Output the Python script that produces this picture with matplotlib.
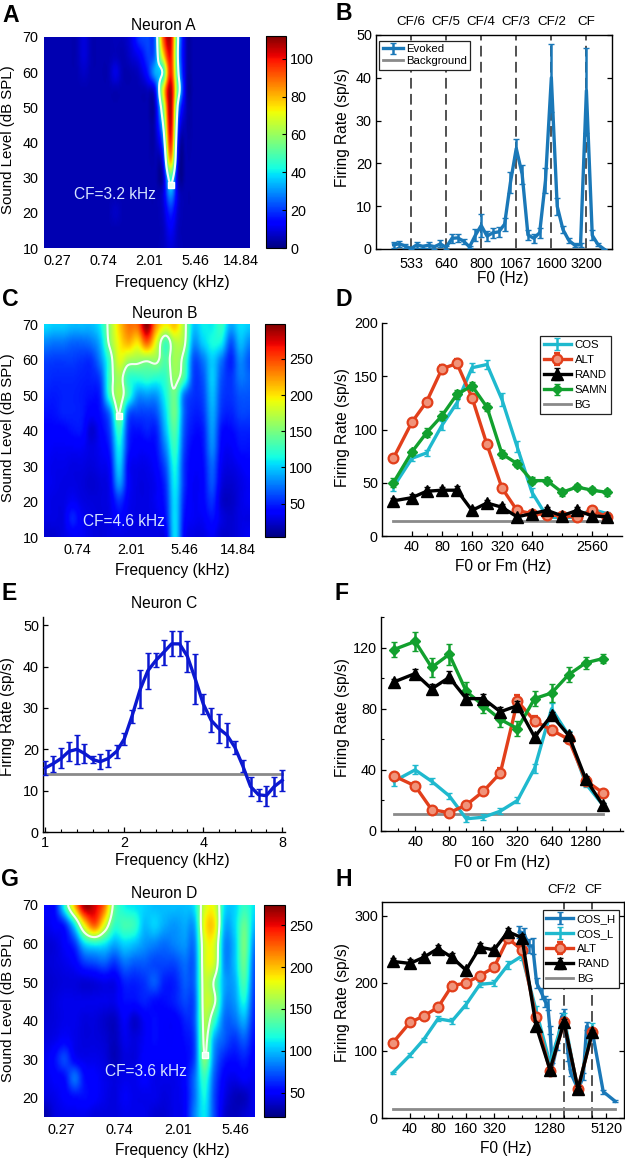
import numpy as np
import matplotlib
matplotlib.use("Agg")
import matplotlib.pyplot as plt
from matplotlib.ticker import NullFormatter

plt.rcParams['font.family'] = ['Liberation Sans', 'DejaVu Sans']
plt.rcParams['axes.linewidth'] = 1.0

W, H = 625, 1161

# tuning maps: quarter octave frequency grid, 5 dB level grid
freq_grid = [0.2, 0.238, 0.283, 0.336, 0.4, 0.476, 0.566, 0.673, 0.8, 0.951, 1.13, 1.35, 1.6, 1.9,
             2.26, 2.69, 3.2, 3.81, 4.53, 5.38, 6.4, 7.61, 9.05, 10.8, 12.8, 15.2, 18.1]

levels_a = [10, 15, 20, 25, 30, 35, 40, 45, 50, 55, 60, 65, 70]
map_a = [
    [5, 5, 5, 5, 5, 5, 5, 5, 5, 5, 5, 5, 5, 5, 5, 6, 9, 6, 5, 5, 5, 5, 5, 5, 5, 5, 5],
    [5, 5, 5, 5, 5, 5, 5, 5, 5, 5, 5, 5, 5, 5, 5, 6, 12, 6, 5, 5, 5, 5, 5, 5, 5, 5, 5],
    [5, 5, 5, 5, 5, 5, 5, 5, 5, 7, 5, 5, 5, 5, 5, 7, 18, 7, 5, 5, 5, 5, 5, 5, 5, 5, 5],
    [5, 5, 5, 5, 5, 5, 5, 5, 5, 5, 5, 5, 5, 5, 5, 8, 30, 8, 5, 5, 5, 5, 5, 5, 5, 5, 5],
    [5, 5, 5, 5, 5, 5, 5, 5, 5, 5, 5, 5, 5, 5, 5, 5, 48, 5, 5, 5, 5, 5, 5, 5, 5, 5, 5],
    [5, 5, 5, 5, 5, 5, 5, 5, 5, 5, 5, 5, 5, 5, 5, 12, 82, 8, 5, 5, 5, 5, 5, 5, 5, 5, 5],
    [5, 5, 5, 5, 5, 5, 5, 5, 5, 5, 5, 5, 5, 5, 5, 24, 98, 12, 5, 5, 5, 5, 5, 5, 5, 5, 5],
    [5, 5, 5, 5, 5, 5, 5, 5, 5, 5, 5, 5, 5, 5, 6, 38, 105, 20, 5, 5, 5, 5, 5, 5, 5, 5, 5],
    [5, 5, 5, 5, 5, 5, 5, 5, 5, 5, 5, 5, 5, 5, 6, 52, 108, 30, 6, 5, 5, 5, 5, 5, 5, 5, 5],
    [5, 5, 5, 5, 5, 5, 5, 5, 5, 5, 5, 5, 5, 6, 12, 68, 108, 46, 6, 5, 5, 5, 5, 5, 5, 5, 5],
    [5, 5, 5, 5, 5, 7, 5, 5, 5, 10, 5, 5, 7, 15, 32, 42, 98, 38, 6, 5, 5, 5, 5, 5, 5, 5, 5],
    [5, 5, 5, 5, 5, 9, 5, 5, 5, 6, 5, 8, 12, 20, 26, 72, 100, 34, 6, 5, 5, 5, 5, 5, 5, 5, 5],
    [5, 5, 5, 5, 5, 9, 5, 5, 5, 6, 6, 10, 20, 22, 25, 88, 104, 36, 6, 5, 5, 5, 5, 5, 5, 5, 5],
]

levels_c = [10, 15, 20, 25, 30, 35, 40, 45, 50, 55, 60, 65, 70]
map_c = [
    [25, 25, 30, 35, 35, 30, 28, 30, 30, 30, 30, 30, 30, 35, 105, 40, 30, 30, 35, 25, 25, 30, 35],
    [30, 30, 30, 50, 35, 30, 28, 30, 40, 32, 30, 30, 32, 45, 105, 45, 35, 35, 45, 30, 25, 30, 30],
    [32, 30, 30, 35, 30, 28, 28, 32, 55, 35, 30, 30, 35, 50, 105, 50, 35, 40, 55, 25, 22, 30, 35],
    [35, 32, 30, 30, 28, 25, 28, 35, 85, 40, 30, 30, 35, 55, 110, 55, 35, 40, 65, 30, 25, 30, 35],
    [35, 32, 32, 30, 30, 28, 32, 40, 100, 40, 32, 32, 40, 65, 115, 55, 38, 42, 70, 35, 30, 35, 40],
    [38, 35, 35, 35, 35, 30, 35, 50, 110, 50, 38, 38, 45, 80, 125, 60, 40, 45, 80, 40, 35, 45, 45],
    [40, 40, 40, 45, 45, 25, 38, 60, 125, 55, 45, 50, 50, 95, 135, 65, 45, 48, 85, 45, 42, 50, 50],
    [45, 45, 50, 50, 48, 38, 45, 75, 152, 70, 60, 60, 65, 105, 145, 70, 50, 55, 90, 55, 50, 60, 60],
    [50, 48, 50, 50, 48, 45, 52, 125, 168, 125, 85, 85, 85, 115, 145, 75, 55, 60, 95, 60, 55, 65, 65],
    [55, 52, 52, 52, 50, 50, 62, 130, 165, 125, 120, 125, 120, 125, 160, 130, 60, 65, 100, 65, 55, 75, 70],
    [60, 58, 58, 58, 55, 55, 80, 130, 185, 165, 160, 155, 158, 135, 165, 140, 65, 75, 100, 75, 50, 80, 65],
    [80, 75, 75, 70, 70, 75, 95, 155, 195, 215, 200, 240, 185, 130, 170, 160, 85, 100, 115, 110, 65, 95, 80],
    [105, 100, 100, 95, 95, 95, 110, 160, 205, 235, 240, 295, 225, 195, 210, 165, 100, 110, 110, 125, 90, 105, 100],
]

levels_g = [15, 20, 25, 30, 35, 40, 45, 50, 55, 60, 65, 70]
map_g = [
    [30, 42, 45, 45, 45, 42, 42, 42, 45, 45, 45, 40, 40, 45, 50, 85, 110, 70, 40, 35, 40, 45],
    [42, 45, 50, 55, 55, 50, 45, 42, 48, 45, 45, 45, 42, 45, 50, 80, 115, 70, 45, 35, 35, 45],
    [45, 50, 55, 80, 55, 50, 45, 42, 45, 45, 50, 45, 45, 45, 52, 80, 125, 75, 50, 45, 50, 45],
    [45, 55, 70, 50, 45, 45, 42, 34, 42, 42, 50, 50, 50, 50, 52, 70, 148, 85, 60, 55, 60, 50],
    [42, 45, 50, 45, 42, 42, 40, 35, 45, 42, 48, 55, 50, 50, 55, 70, 155, 95, 75, 65, 75, 55],
    [40, 42, 45, 45, 42, 42, 38, 36, 48, 38, 48, 55, 50, 50, 60, 75, 160, 125, 80, 80, 95, 60],
    [38, 42, 45, 45, 45, 45, 45, 45, 55, 55, 60, 55, 55, 60, 70, 75, 165, 152, 90, 90, 115, 65],
    [38, 40, 42, 42, 40, 42, 45, 45, 60, 60, 65, 75, 60, 60, 75, 80, 165, 145, 95, 95, 130, 70],
    [40, 42, 45, 50, 65, 70, 75, 65, 80, 75, 75, 70, 70, 70, 80, 80, 170, 170, 90, 100, 140, 75],
    [40, 42, 50, 65, 105, 115, 110, 95, 105, 100, 90, 85, 80, 85, 90, 85, 172, 175, 90, 100, 145, 85],
    [45, 50, 60, 110, 185, 225, 175, 125, 130, 125, 100, 105, 95, 90, 95, 95, 182, 190, 100, 105, 140, 100],
    [50, 55, 120, 200, 265, 255, 220, 140, 115, 110, 105, 100, 100, 100, 100, 110, 172, 178, 110, 105, 125, 110],
]

# panel B
harm_b = [6.5, 6.333, 6.167, 6, 5.833, 5.667, 5.5, 5.333, 5.167, 5, 4.833, 4.667, 4.5, 4.333, 4.167, 4, 3.833,
          3.667, 3.5, 3.333, 3.167, 3, 2.833, 2.667, 2.5, 2.333, 2.167, 2, 1.833, 1.667, 1.5, 1.333, 1.167, 1,
          0.833, 0.667, 0.5]
rate_b = [1, 1.2, 0.7, 0.1, 1, 0.6, 0.9, 0.5, 1.2, 0.4, 2.5, 2.6, 1.8, 0.5, 3.2, 5.5, 3, 3.8, 4, 5.8, 15.5, 23.5,
          17.5, 3.3, 2.5, 3.8, 16, 40, 10, 4.5, 2, 0.9, 1, 37, 3.2, 1, 0]
err_b = [0.7, 0.7, 0.4, 0.2, 0.7, 0.4, 0.7, 0.4, 0.8, 0.4, 1, 1, 0.6, 0.3, 1.4, 2.6, 1.1, 1.2, 1.1, 1.5, 2.4, 2.1,
         2.2, 1.2, 1.1, 1.2, 3, 8, 2, 0.8, 0.6, 0.4, 0.5, 10, 1.2, 0.4, 0.1]
harm_lines = [6, 5, 4, 3, 2, 1]
harm_ticklabels = ['533', '640', '800', '1067', '1600', '3200']
harm_names = ['CF/6', 'CF/5', 'CF/4', 'CF/3', 'CF/2', 'CF']

# panel D
f0_d = [26, 40, 56, 80, 113, 160, 226, 320, 453, 640, 905, 1280, 1810, 2560, 3620]
cos_d = [46, 73, 78, 104, 125, 158, 161, 128, 84, 41, 18, 17, 18, 25, 21]
alt_d = [73, 107, 126, 157, 162, 130, 86, 45, 24, 21, 20, 19, 18, 24, 18]
rand_d = [33, 36, 42, 43, 43, 24, 31, 27, 18, 21, 24, 19, 24, 19, 18]
samn_d = [50, 79, 97, 113, 133, 141, 121, 77, 68, 52, 52, 41, 46, 43, 41]
cos_d_err = [4, 3, 3, 4, 5, 4, 4, 6, 5, 4, 2, 2, 2, 3, 2]
alt_d_err = [3, 3, 3, 4, 4, 3, 3, 3, 2, 2, 2, 2, 2, 2, 2]
rand_d_err = [3, 3, 4, 3, 4, 3, 3, 3, 2, 2, 3, 2, 3, 2, 2]
samn_d_err = [4, 3, 4, 4, 4, 4, 4, 4, 3, 3, 3, 3, 3, 3, 3]

# panel E
freq_e = [1, 1.07, 1.15, 1.23, 1.32, 1.41, 1.52, 1.62, 1.74, 1.87, 2, 2.14, 2.3, 2.46, 2.64, 2.83, 3.03, 3.25,
          3.48, 3.73, 4, 4.29, 4.59, 4.92, 5.28, 5.66, 6.06, 6.5, 6.96, 7.46, 8]
rate_e = [15.5, 16.5, 17.8, 19.5, 20, 19, 17.5, 17, 17.8, 19.5, 22.5, 28, 34.5, 39, 41.5, 43.5, 45.5, 45.5, 42.5,
          37, 31, 27, 25, 23.5, 20.5, 16, 11, 9, 8.8, 11, 12.5]
err_e = [1.7, 2, 2.4, 2.3, 3.5, 2.3, 0.8, 1.8, 2, 1.6, 1.5, 1.6, 4.6, 4.4, 1.7, 3, 3, 3, 3.7, 6, 2.4, 2.9, 3.5,
         2.9, 1.6, 1.4, 2.3, 1.5, 2.4, 2.2, 2.6]

# panel F
f0_f = [26, 40, 56, 80, 113, 160, 226, 320, 453, 640, 905, 1280, 1810]
cos_f = [32.5, 40, 32.5, 23, 8, 9, 13, 20, 41, 80, 62.6, 31, 17]
alt_f = [36, 29.5, 14, 12, 17, 26, 38, 85, 72, 66, 60, 33, 25]
rand_f = [97.5, 103, 93, 100.5, 86.6, 86.6, 78, 82, 61.5, 75.7, 62.6, 34, 17]
samn_f = [118.7, 124, 107, 115.6, 91.4, 82, 73, 67, 86.6, 90.3, 102.3, 110, 112.8]
cos_f_err = [3, 3, 2, 2, 2, 2, 2, 2, 3, 4, 3, 2, 1]
alt_f_err = [2, 2, 2, 2, 2, 2, 3, 4, 3, 3, 2, 2, 2]
rand_f_err = [2, 3, 3, 4, 3, 3, 3, 3, 2, 2, 2, 2, 1]
samn_f_err = [5, 6, 6, 7, 6, 5, 5, 5, 5, 6, 5, 4, 3]

# panel H
f0_h = [26, 40, 56, 80, 113, 160, 226, 320, 453, 640, 905, 1280, 1810, 2560, 3650]
cosl_h = [66.6, 93, 116, 147, 143.5, 168, 198, 200, 227, 240, 160, 81, 150, 39, 135]
alt_h = [111, 141.6, 151, 164, 196, 200, 211, 223, 266, 249, 149, 70, 142, 43, 127]
rand_h = [232, 229, 238, 251, 238, 219, 253, 249, 276, 267, 137, 71.5, 141.6, 43, 127]
cosl_h_err = [2, 3, 3, 4, 4, 5, 4, 5, 6, 6, 6, 6, 6, 4, 6]
alt_h_err = [4, 4, 4, 4, 5, 4, 4, 4, 5, 6, 6, 4, 4, 4, 4]
rand_h_err = [5, 6, 5, 6, 7, 5, 6, 5, 5, 6, 5, 4, 5, 4, 4]
f0_cosh = [599, 672, 755, 833, 920, 1040, 1131, 1209, 1280, 1356, 1522, 1709, 1825, 2015, 2134, 2583, 2920, 3173,
           3650, 4785, 6400]
cosh_h = [276, 274, 255, 255, 200, 185, 173, 168, 131, 76, 106, 150, 155, 91, 67, 42, 62, 136, 128, 39, 25]
cosh_h_err = [9, 8, 10, 12, 8, 8, 8, 8, 6, 6, 5, 6, 6, 6, 5, 4, 5, 6, 6, 3, 2]

CYAN = '#1fb9ce'
RED = '#e23f1b'
GREEN = '#12a02e'
STEEL = '#1a78b8'
GRAY = '#8a8a8a'
TICK = 10.4
LABEL = 11.2

fig = plt.figure(figsize=(W / 100, H / 100), dpi=100)


def new_axes(left, top, right, bottom):
    return fig.add_axes([left / W, 1 - bottom / H, (right - left) / W, (bottom - top) / H])


def put(x, y, s, **kw):
    return fig.text(x / W, 1 - y / H, s, ha=kw.pop('ha', 'center'), va=kw.pop('va', 'center'), **kw)


# catmull-rom along one axis so the peaks keep their read value
def refine(a, n, axis):
    a = np.moveaxis(a, axis, 0)
    m = a.shape[0]
    t = np.linspace(0, m - 1, (m - 1) * n + 1)
    i = np.minimum(t.astype(int), m - 2)
    u = (t - i).reshape(-1, *([1] * (a.ndim - 1)))
    p0, p1, p2, p3 = a[np.maximum(i - 1, 0)], a[i], a[i + 1], a[np.minimum(i + 2, m - 1)]
    out = 0.5 * (2 * p1 + (p2 - p0) * u + (2 * p0 - 5 * p1 + 4 * p2 - p3) * u ** 2 + (3 * p1 - p0 - 3 * p2 + p3) * u ** 3)
    return np.moveaxis(out, 0, axis)


def heat_panel(box, cbox, freqs, levels, z, vmin, vmax, xt, xl, yt, cbt, contour, cf_point):
    ax = new_axes(*box)
    x = np.log(freqs)
    fine = refine(refine(np.array(z, float), 8, 0), 8, 1)
    xf = np.linspace(x[0], x[-1], fine.shape[1])
    yf = np.linspace(levels[0], levels[-1], fine.shape[0])
    im = ax.imshow(fine, origin='lower', aspect='auto', cmap='jet', vmin=vmin, vmax=vmax,
                   interpolation='bilinear', extent=[x[0], x[-1], levels[0], levels[-1]])
    ax.contour(xf, yf, fine, levels=[contour], colors='#f4fbf4', linewidths=1.5)
    ax.plot(np.log(cf_point[0]), cf_point[1], 's', color='white', ms=4.2, mec='white', mfc='#e8fff0')
    ax.set_xlim(x[0], x[-1])
    ax.set_ylim(levels[0], levels[-1])
    ax.set_xticks(np.log(xt), xl, fontsize=TICK)
    ax.set_yticks(yt)
    ax.tick_params(axis='both', length=0, labelsize=TICK, pad=4)
    for s in ax.spines.values():
        s.set_visible(False)
    cax = new_axes(*cbox)
    cb = fig.colorbar(im, cax=cax)
    cb.set_ticks(cbt)
    cb.ax.tick_params(direction='in', length=3, width=0.8, labelsize=TICK, pad=3)
    cb.outline.set_linewidth(0.8)
    return ax


def line_panel(box, xlim, ylim, yt, xt=None, xl=None, minor=None, ymin=None, box_on=False):
    ax = new_axes(*box)
    if xt is not None:
        ax.set_xscale('log', base=2)
    ax.set_xlim(*xlim)
    ax.set_ylim(*ylim)
    ax.set_yticks(yt)
    if xt is not None:
        ax.set_xticks(xt, xl)
        ax.set_xticks(minor, minor=True)
        ax.xaxis.set_minor_formatter(NullFormatter())
    if ymin is not None:
        ax.set_yticks(ymin, minor=True)
    ax.tick_params(which='major', direction='in', length=3.5, width=0.9, labelsize=TICK, pad=3, right=box_on)
    ax.tick_params(which='minor', direction='in', length=2, width=0.8, right=box_on)
    ax.spines['top'].set_visible(box_on)
    ax.spines['right'].set_visible(box_on)
    return ax


def ebar(ax, x, y, e, color, label=None, marker=None, ms=0, hollow=False, z=3, lw=2.4):
    ax.errorbar(x, y, yerr=e, color=color, lw=lw, elinewidth=1.8, capsize=2.2, capthick=1.7, marker=marker, ms=ms,
                mfc='#f0937a' if hollow else color, mec=color, mew=1.6 if hollow else 1, label=label, zorder=z)


def legend(ax, order, x, y, spacing=0.45, hlen=2.4):
    hs, ls = ax.get_legend_handles_labels()
    hs = [hs[ls.index(o)] for o in order]
    leg = ax.legend(hs, order, loc='upper left', bbox_to_anchor=(x, y), borderaxespad=0, fontsize=8.2, frameon=True,
                    fancybox=False, framealpha=1, edgecolor='#222222', handlelength=hlen, handletextpad=0.3,
                    labelspacing=spacing, borderpad=0.3)
    leg.get_frame().set_linewidth(0.9)
    leg.set_zorder(10)


def series_style(ax, x, cos, alt, rnd, samn, ecos, ealt, ernd, esamn, bg, bgx):
    ebar(ax, x, cos, ecos, CYAN, 'COS', z=3)
    ebar(ax, x, alt, ealt, RED, 'ALT', marker='o', ms=7, hollow=True, z=4)
    ebar(ax, x, rnd, ernd, 'black', 'RAND', marker='^', ms=8.5, z=6)
    ebar(ax, x, samn, esamn, GREEN, 'SAMN', marker='D', ms=5, z=5)
    ax.plot(bgx, [bg, bg], color=GRAY, lw=2, label='BG', zorder=2)


# A
heat_panel((44, 37, 250, 248), (266, 36, 286, 248), freq_grid, levels_a, map_a, 0, 112,
           [0.27, 0.74, 2.01, 5.46, 14.84], ['0.27', '0.74', '2.01', '5.46', '14.84'],
           [10, 20, 30, 40, 50, 60, 70], [0, 20, 40, 60, 80, 100], 40, (3.2, 28))
put(115, 194, 'CF=3.2 kHz', color='#d5e4ff', fontsize=LABEL)

# B
ax = line_panel((376, 35, 612, 249), (7, 0.27), (0, 50), [0, 10, 20, 30, 40, 50], box_on=True)
for h in harm_lines:
    ax.plot([h, h], [0, 50], color='#222222', lw=1.1, dashes=(7, 3.5), zorder=1)
ax.plot([harm_b[0], harm_b[-1]], [0, 0], color=GRAY, lw=2, label='Background', zorder=2)
ebar(ax, harm_b, rate_b, err_b, STEEL, 'Evoked', z=3)
ax.set_xticks(harm_lines, harm_ticklabels)
ax.tick_params(axis='x', length=0, pad=6)
for h, nm in zip(harm_lines, harm_names):
    ax.text(h, 51.6, nm, ha='center', va='bottom', fontsize=9.6)
legend(ax, ['Evoked', 'Background'], 0.014, 0.973, spacing=0.2, hlen=1.75)

# C
heat_panel((44, 324, 249, 537), (265, 324, 285, 537), freq_grid[4:], levels_c, map_c, 4, 298,
           [0.74, 2.01, 5.46, 14.84], ['0.74', '2.01', '5.46', '14.84'],
           [10, 20, 30, 40, 50, 60, 70], [50, 100, 150, 200, 250], 150, (1.6, 44))
put(124, 522, 'CF=4.6 kHz', color='#d5e4ff', fontsize=LABEL)

# D
ax = line_panel((382, 323, 622, 536), (20, 5120), (0, 200), [0, 50, 100, 150, 200],
                [40, 80, 160, 320, 640, 2560], ['40', '80', '160', '320', '640', '2560'],
                [56, 113, 226, 453, 905, 1280, 1810, 3620])
series_style(ax, f0_d, cos_d, alt_d, rand_d, samn_d, cos_d_err, alt_d_err, rand_d_err, samn_d_err, 14,
             [f0_d[0], f0_d[-1]])
legend(ax, ['COS', 'ALT', 'RAND', 'SAMN', 'BG'], 0.66, 0.937)

# E
ax = line_panel((43, 617, 285, 832), (0.98, 8.2), (0, 52), [0, 10, 20, 30, 40, 50],
                [1, 2, 4, 8], ['1', '2', '4', '8'],
                [1.15, 1.32, 1.52, 1.74, 2.3, 2.64, 3.03, 3.48, 4.59, 5.28, 6.06, 6.96])
ax.plot([1, 8], [14, 14], color=GRAY, lw=2, zorder=2)
ebar(ax, freq_e, rate_e, err_e, '#0b18d0', z=3)

# F
ax = line_panel((381, 617, 623, 831), (20, 2730), (0, 140), [0, 40, 80, 120],
                [40, 80, 160, 320, 640, 1280], ['40', '80', '160', '320', '640', '1280'],
                [28, 56, 113, 226, 453, 905, 1810, 2560], ymin=[20, 60, 100, 140])
series_style(ax, f0_f, cos_f, alt_f, rand_f, samn_f, cos_f_err, alt_f_err, rand_f_err, samn_f_err, 11,
             [f0_f[0], f0_f[-1]])

# G
heat_panel((44, 905, 255, 1117), (264, 905, 285, 1117), freq_grid[:22], levels_g, map_g, 21, 274,
           [0.27, 0.74, 2.01, 5.46], ['0.27', '0.74', '2.01', '5.46'],
           [20, 30, 40, 50, 60, 70], [50, 100, 150, 200, 250], 150, (3.2, 31))
put(146, 1072, 'CF=3.6 kHz', color='#d5e4ff', fontsize=LABEL)

# H
ax = line_panel((382, 902, 624, 1118), (20, 8000), (0, 320), [0, 100, 200, 300],
                [40, 80, 160, 320, 1280, 5120], ['40', '80', '160', '320', '1280', '5120'],
                [56, 113, 226, 453, 640, 905, 1810, 2560, 3620], box_on=True)
ax.plot([1825, 1825], [0, 320], color='#222222', lw=1.1, dashes=(7, 3.5), zorder=1)
ax.plot([3650, 3650], [0, 320], color='#222222', lw=1.1, dashes=(7, 3.5), zorder=1)
ebar(ax, f0_cosh, cosh_h, cosh_h_err, STEEL, 'COS_H', z=3)
ebar(ax, f0_h, cosl_h, cosl_h_err, CYAN, 'COS_L', z=4)
ebar(ax, f0_h, alt_h, alt_h_err, RED, 'ALT', marker='o', ms=7, hollow=True, z=5)
ebar(ax, f0_h, rand_h, rand_h_err, 'black', 'RAND', marker='^', ms=8.5, z=6)
ax.plot([f0_h[0], f0_cosh[-1]], [14, 14], color=GRAY, lw=2, label='BG', zorder=2)
legend(ax, ['COS_H', 'COS_L', 'ALT', 'RAND', 'BG'], 0.664, 0.961)
put(562, 890, 'CF/2', fontsize=9.6)
put(593, 890, 'CF', fontsize=9.6)

# shared texts
for x, y, s in [(163, 25, 'Neuron A'), (165, 313, 'Neuron B'), (164, 604, 'Neuron C'), (164, 894, 'Neuron D')]:
    put(x, y, s, fontsize=LABEL)
for x, y, s in [(172, 282, 'Frequency (kHz)'), (503, 278, 'F0 (Hz)'), (172, 570, 'Frequency (kHz)'),
                (503, 567, 'F0 or Fm (Hz)'), (172, 861, 'Frequency (kHz)'), (502, 862, 'F0 or Fm (Hz)'),
                (172, 1151, 'Frequency (kHz)'), (506, 1149, 'F0 (Hz)')]:
    put(x, y, s, fontsize=LABEL)
for x, y, s in [(8, 140, 'Sound Level (dB SPL)'), (8, 428, 'Sound Level (dB SPL)'), (8, 1008, 'Sound Level (dB SPL)')]:
    put(x, y, s, fontsize=10.8, rotation=90)
for x, y, s in [(343, 128, 'Firing Rate (sp/s)'), (342, 428, 'Firing Rate (sp/s)'), (8, 717, 'Firing Rate (sp/s)'),
                (342, 718, 'Firing Rate (sp/s)'), (342, 1003, 'Firing Rate (sp/s)')]:
    put(x, y, s, fontsize=LABEL, rotation=90)
for x, y, s in [(11, 15, 'A'), (344, 13, 'B'), (10, 300, 'C'), (344, 300, 'D'), (9, 593, 'E'), (342, 593, 'F'),
                (10, 880, 'G'), (344, 879, 'H')]:
    put(x, y, s, fontsize=16.6, fontweight='bold')

fig.savefig('out.png', dpi=100)
